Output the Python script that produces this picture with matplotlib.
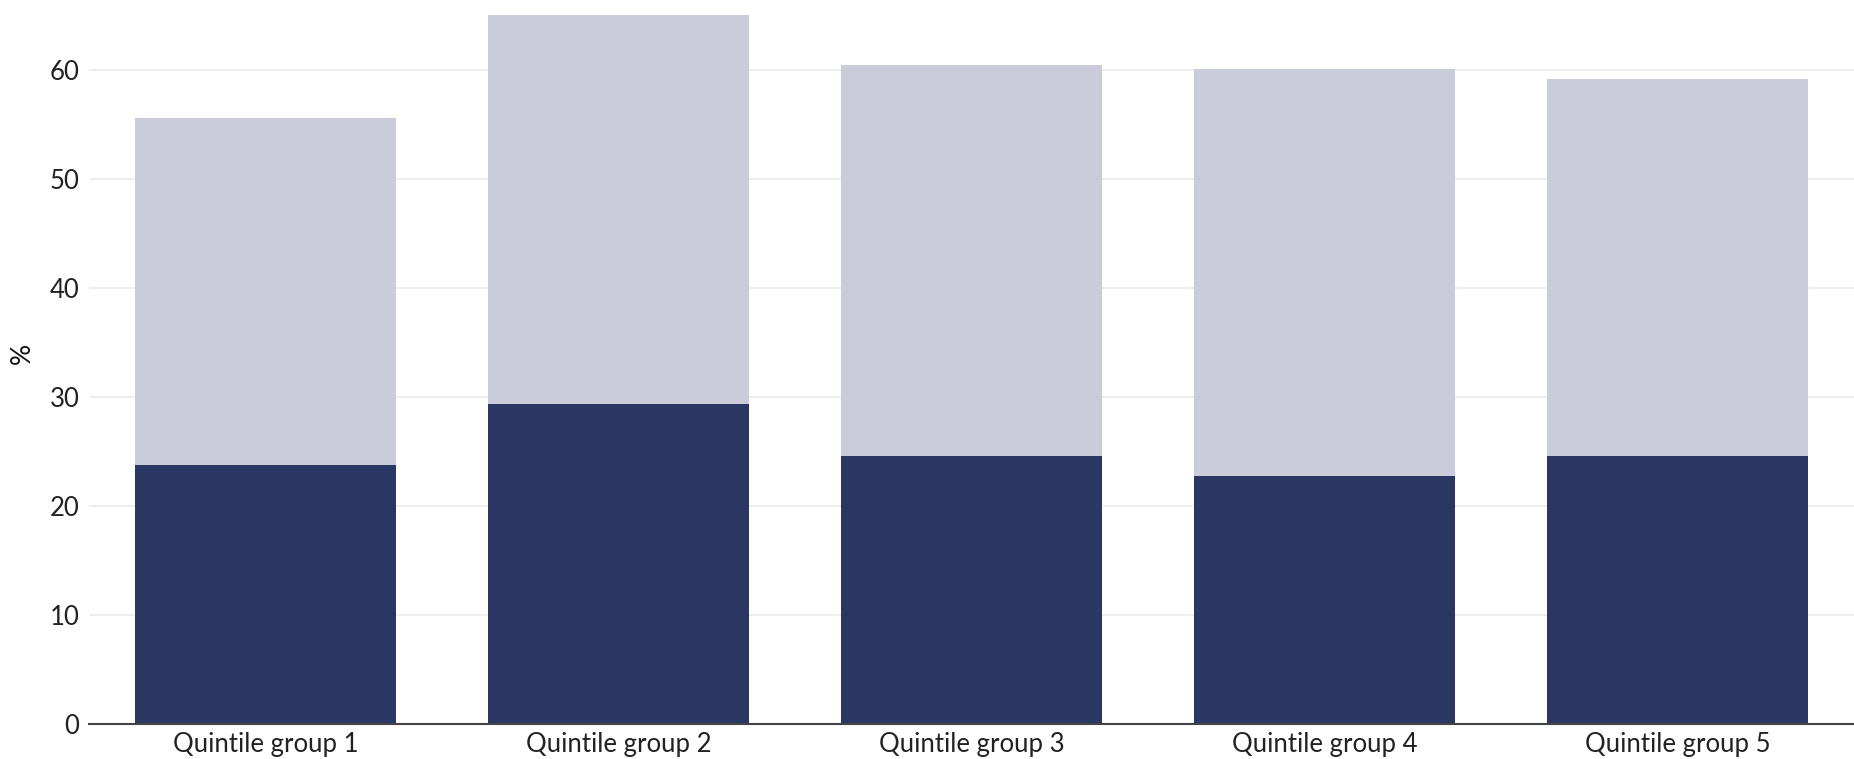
import numpy as np
import matplotlib.pyplot as plt

plt.rcParams['font.family'] = ['Lato', 'DejaVu Sans']

categories = ["Quintile group 1", "Quintile group 2", "Quintile group 3",
              "Quintile group 4", "Quintile group 5"]
# lower (dark) segment and upper (light) segment, in %
lower_vals = [23.8, 29.4, 24.6, 22.8, 24.6]
upper_vals = [31.8, 35.6, 35.9, 37.3, 34.6]

dark = "#2a3762"
light = "#cacdd9"

fig = plt.figure(figsize=(18.54, 7.59), dpi=100)
ax = fig.add_axes([0.048, 0.046, 0.952, 0.948])

x = np.arange(len(categories))
ax.bar(x, lower_vals, width=0.74, color=dark, zorder=2)
ax.bar(x, upper_vals, width=0.74, bottom=lower_vals, color=light, zorder=2)

ax.set_xlim(-0.5, 4.5)
ax.set_ylim(0, 66.0)
ax.set_yticks(range(0, 61, 10))
ax.set_xticks(x)
ax.set_xticklabels(categories)
ax.set_ylabel("%", fontsize=19, color="#111111")
ax.yaxis.set_label_coords(-0.0305, 0.515)

ax.grid(axis="y", color="#ebebeb", linewidth=1.2, zorder=0)
ax.tick_params(axis="both", length=0, labelsize=18.5, colors="#222222")
ax.tick_params(axis="x", pad=6)
ax.tick_params(axis="y", pad=7)
for s in ["top", "right", "left"]:
    ax.spines[s].set_visible(False)
ax.spines["bottom"].set_color("#444444")
ax.spines["bottom"].set_linewidth(1.5)
ax.spines["bottom"].set_zorder(3)

fig.savefig("out.png", dpi=100)
